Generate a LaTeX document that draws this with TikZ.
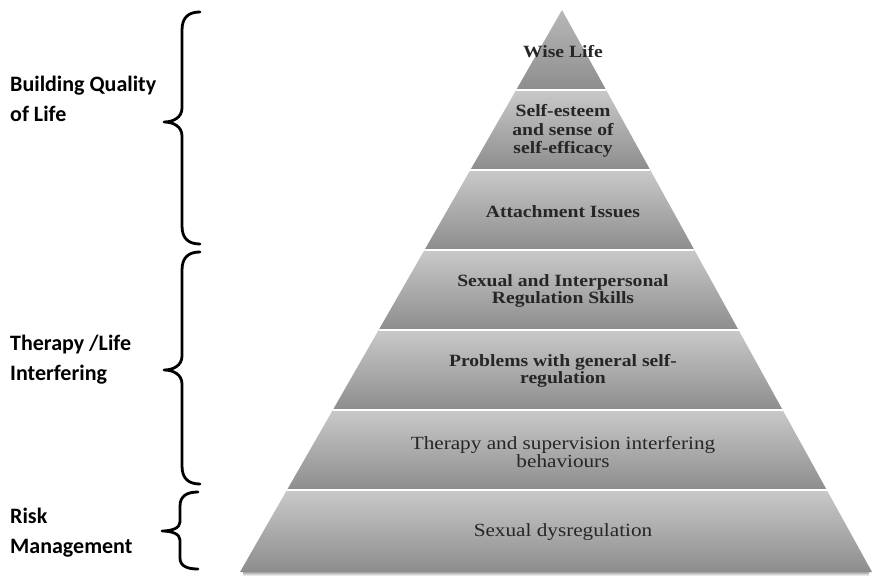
\documentclass[tikz,border=0pt]{standalone}
\usepackage{fontspec}
\setmainfont{Liberation Serif}
\newfontfamily\pyrfont[FakeStretch=1.14]{Liberation Serif}
\newfontfamily\lblfont{Carlito}
\usetikzlibrary{calc}
\definecolor{laytop}{HTML}{C9C9C9}
\definecolor{laybot}{HTML}{8D8D8D}
\definecolor{tiptop}{HTML}{B8B8B8}
\definecolor{pyrtxt}{HTML}{262626}
\begin{document}
\begin{tikzpicture}[x=1pt,y=-1pt,
  layer/.style={top color=laytop, bottom color=laybot, draw=none},
  pyrtext/.style={font=\pyrfont\bfseries\fontsize{17.2}{17.5}\selectfont, text=pyrtxt, align=center, inner sep=0pt},
  pyrreg/.style={font=\pyrfont\fontsize{18.6}{18.5}\selectfont, text=pyrtxt, align=center, inner sep=0pt},
  sidelbl/.style={font=\lblfont\bfseries\fontsize{22}{30}\selectfont, text=black, align=left, anchor=west, inner sep=0pt},
  bracestroke/.style={line width=2.8pt, line cap=round, line join=round, draw=black},
  sepline/.style={draw=white, line width=1.2pt}
]
\useasboundingbox (0,0) rectangle (875,577);
\fill[white] (0,0) rectangle (875,577);

% pyramid geometry
\coordinate (A) at (562,10);
\coordinate (BL) at (240,572);
\coordinate (BR) at (872,572);
\foreach \i/\t in {1/0.14235,2/0.2847,3/0.42705,4/0.5694,5/0.71175,6/0.8541,7/1}{
  \coordinate (L\i) at ($(A)!\t!(BL)$);
  \coordinate (R\i) at ($(A)!\t!(BR)$);
}

% soft shadow under the base
\shade[top color=black!35, bottom color=white] ($(BL)+(3,0)$) rectangle ($(BR)+(-3,4)$);

% layers
\shade[top color=tiptop, bottom color=laybot] (A) -- (R1) -- (L1) -- cycle;
\shade[layer] (L1) -- (R1) -- (R2) -- (L2) -- cycle;
\shade[layer] (L2) -- (R2) -- (R3) -- (L3) -- cycle;
\shade[layer] (L3) -- (R3) -- (R4) -- (L4) -- cycle;
\shade[layer] (L4) -- (R4) -- (R5) -- (L5) -- cycle;
\shade[layer] (L5) -- (R5) -- (R6) -- (L6) -- cycle;
\shade[layer] (L6) -- (R6) -- (R7) -- (L7) -- cycle;
\foreach \i in {1,...,6}{ \path[sepline] (L\i) -- (R\i); }

% layer texts
\node[pyrtext] (t1) at (563,52) {Wise Life};
\node[pyrtext, font=\pyrfont\bfseries\fontsize{17.2}{18.5}\selectfont] (t2) at (563,131) {Self-esteem\\and sense of\\self-efficacy};
\node[pyrtext] (t3) at (563,212) {Attachment Issues};
\node[pyrtext] (t4) at (563,291) {Sexual and Interpersonal\\Regulation Skills};
\node[pyrtext] (t5) at (563,371) {Problems with general self-\\regulation};
\node[pyrreg] (t6) at (563,452) {Therapy and supervision interfering\\behaviours};
\node[pyrreg] (t7) at (563,532) {Sexual dysregulation};

% side labels
\node[sidelbl] (bq) at (10,99) {Building Quality\\of Life};
\node[sidelbl] (tl) at (10,360) {Therapy /Life\\Interfering};
\node[sidelbl] (rm) at (10,533) {Risk\\Management};

% braces
\draw[bracestroke] (200,12) .. controls (189,12) and (182,17) .. (182,30) -- (182,108)
  .. controls (182,117) and (174,122) .. (164,122)
  .. controls (174,122) and (182,127) .. (182,136) -- (182,226)
  .. controls (182,239) and (189,244) .. (200,244);
\draw[bracestroke] (200,252) .. controls (189,252) and (182,257) .. (182,270) -- (182,356)
  .. controls (182,365) and (174,370) .. (164,370)
  .. controls (174,370) and (182,375) .. (182,384) -- (182,466)
  .. controls (182,479) and (189,484) .. (200,484);
\draw[bracestroke] (198,492) .. controls (187,492) and (180,496) .. (180,506) -- (180,522)
  .. controls (180,528) and (172,531) .. (162,531)
  .. controls (172,531) and (180,534) .. (180,540) -- (180,558)
  .. controls (180,566) and (187,569) .. (198,569);
\end{tikzpicture}
\end{document}
